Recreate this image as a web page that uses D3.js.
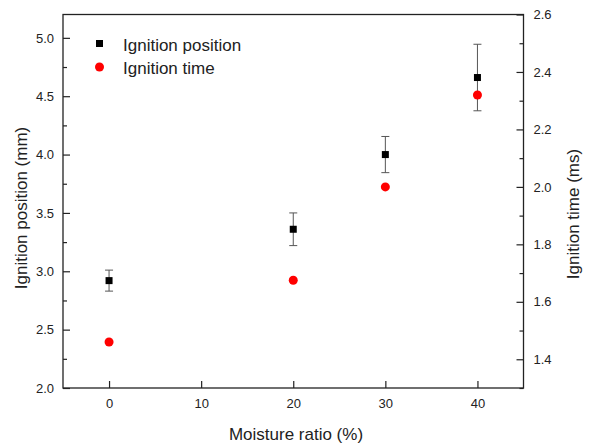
<!DOCTYPE html>
<html><head><meta charset="utf-8">
<script src="https://cdn.jsdelivr.net/npm/d3@7"></script>
<style>body{margin:0;background:#fff}svg{display:block;font-family:"Liberation Sans",Arial,sans-serif}</style>
</head><body><svg id="c" width="592" height="447"></svg>
<script>
const moisture = [0, 20, 30, 40];
const ignitionPosition = [2.92, 3.36, 4.00, 4.66];
const positionError = [0.09, 0.14, 0.155, 0.285];
const ignitionTime = [1.46, 1.675, 2.0, 2.32];
const xTicks = [0, 10, 20, 30, 40];
const leftTicks = [2.0, 2.5, 3.0, 3.5, 4.0, 4.5, 5.0];
const rightTicks = [1.4, 1.6, 1.8, 2.0, 2.2, 2.4, 2.6];

const svg = d3.select("#c");
const L = 63, R = 523.5, T = 14.5, B = 388;
const x = d3.scaleLinear().domain([-5, 45]).range([L, R]);
const yL = d3.scaleLinear().domain([2, 5.2]).range([B, T]);
const yR = d3.scaleLinear().domain([1.3, 2.6]).range([B, T]);

const g = svg.append("g");
g.append("rect").attr("x", L).attr("y", T).attr("width", R - L).attr("height", B - T)
  .attr("fill", "none").attr("stroke", "#222").attr("stroke-width", 1.3);

g.append("g").attr("transform", `translate(0,${B})`)
  .call(d3.axisBottom(x).tickValues(xTicks).tickSizeInner(-7).tickSizeOuter(0).tickPadding(11).tickFormat(d3.format("d")));
const minorL = d3.range(2.25, 5.2, 0.5);
g.append("g").attr("transform", `translate(${L},0)`)
  .call(d3.axisLeft(yL).tickValues(minorL).tickSize(-4).tickFormat(""));
g.append("g").attr("transform", `translate(${L},0)`)
  .call(d3.axisLeft(yL).tickValues(leftTicks).tickSizeInner(-7).tickSizeOuter(0).tickPadding(9).tickFormat(d3.format(".1f")));
const minorR = d3.range(1.3, 2.6, 0.2);
g.append("g").attr("transform", `translate(${R},0)`)
  .call(d3.axisRight(yR).tickValues(minorR).tickSize(-4).tickFormat(""));
g.append("g").attr("transform", `translate(${R},0)`)
  .call(d3.axisRight(yR).tickValues(rightTicks).tickSizeInner(-7).tickSizeOuter(0).tickPadding(10).tickFormat(d3.format(".1f")));

svg.selectAll(".domain").remove();
svg.selectAll(".tick line").attr("stroke", "#222").attr("stroke-width", 1.2);
svg.selectAll(".tick text").attr("font-size", 13).attr("fill", "#222").attr("font-family", "Liberation Sans, Arial, sans-serif");

const eb = g.append("g").attr("stroke", "#555").attr("stroke-width", 1);
moisture.forEach((m, i) => {
  const cx = x(m), y1 = yL(ignitionPosition[i] + positionError[i]), y2 = yL(ignitionPosition[i] - positionError[i]);
  eb.append("line").attr("x1", cx).attr("x2", cx).attr("y1", y1).attr("y2", y2);
  eb.append("line").attr("x1", cx - 4).attr("x2", cx + 4).attr("y1", y1).attr("y2", y1);
  eb.append("line").attr("x1", cx - 4).attr("x2", cx + 4).attr("y1", y2).attr("y2", y2);
});
g.selectAll(".sq").data(moisture).join("rect")
  .attr("x", (d) => x(d) - 3.5).attr("y", (d, i) => yL(ignitionPosition[i]) - 3.5)
  .attr("width", 7).attr("height", 7).attr("fill", "#000");
g.selectAll(".ci").data(moisture).join("circle")
  .attr("cx", (d) => x(d)).attr("cy", (d, i) => yR(ignitionTime[i])).attr("r", 4.5).attr("fill", "#ff0000");

const lg = g.append("g");
lg.append("rect").attr("x", 96).attr("y", 40).attr("width", 7).attr("height", 7).attr("fill", "#000");
lg.append("circle").attr("cx", 99.5).attr("cy", 67).attr("r", 4.5).attr("fill", "#ff0000");
lg.append("text").attr("x", 123).attr("y", 51).attr("font-size", 17).attr("fill", "#222").text("Ignition position");
lg.append("text").attr("x", 123).attr("y", 74).attr("font-size", 17).attr("fill", "#222").text("Ignition time");

svg.append("text").attr("x", 296).attr("y", 440).attr("text-anchor", "middle")
  .attr("font-size", 17).attr("fill", "#222").text("Moisture ratio (%)");
svg.append("text").attr("transform", `translate(27,208) rotate(-90)`).attr("text-anchor", "middle")
  .attr("font-size", 17).attr("fill", "#222").text("Ignition position (mm)");
svg.append("text").attr("transform", `translate(579,214) rotate(-90)`).attr("text-anchor", "middle")
  .attr("font-size", 17).attr("fill", "#222").text("Ignition time (ms)");
</script></body></html>
